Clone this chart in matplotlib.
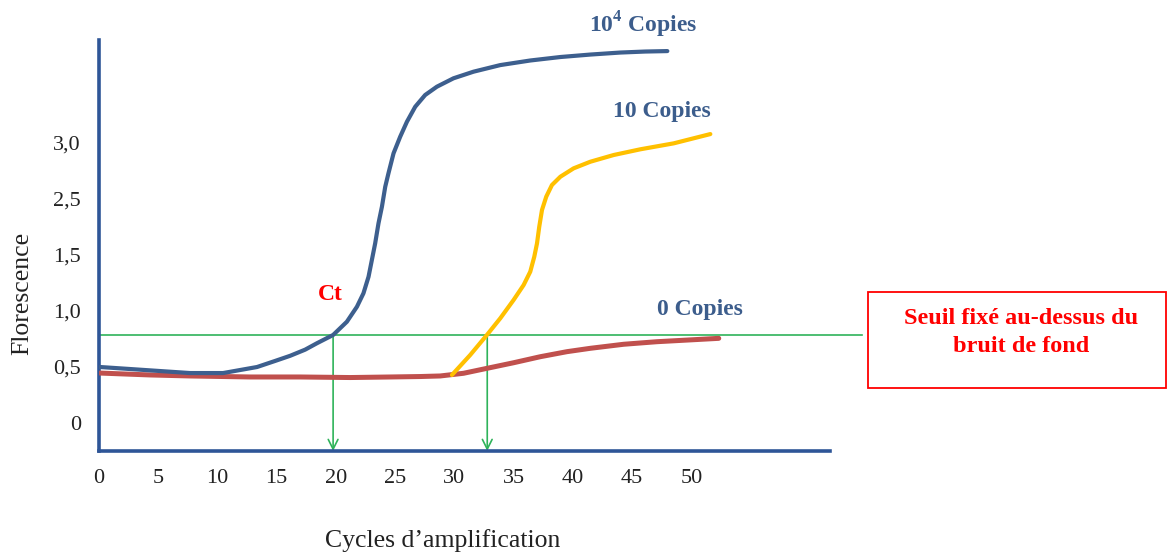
import matplotlib
matplotlib.use("Agg")
import matplotlib.pyplot as plt
from matplotlib.patches import Rectangle

plt.rcParams['font.family'] = ['Liberation Serif', 'DejaVu Serif']
plt.rcParams['mathtext.fontset'] = 'custom'
plt.rcParams['mathtext.rm'] = 'Liberation Serif'
plt.rcParams['mathtext.bf'] = 'Liberation Serif:bold'

# ---- data ----
cycles_1e4 = [0.08, 2.62, 5.15, 7.69, 10.47, 13.34, 14.86, 16.13, 17.40, 18.39,
              19.76, 20.92, 21.77, 22.32, 22.75, 23.03, 23.31, 23.59, 23.88, 24.16,
              24.43, 24.86, 25.42, 25.99, 26.69, 27.53, 28.52, 29.92, 31.61, 33.87,
              36.40, 38.94, 41.47, 44.0, 46.11, 47.97]
fluo_1e4 = [0.500, 0.482, 0.464, 0.446, 0.446, 0.500, 0.554, 0.600, 0.655, 0.712,
            0.786, 0.904, 1.038, 1.158, 1.306, 1.455, 1.604, 1.783, 1.931, 2.110,
            2.229, 2.408, 2.556, 2.690, 2.824, 2.929, 3.003, 3.078, 3.137, 3.196,
            3.237, 3.268, 3.290, 3.308, 3.317, 3.321]

cycles_10 = [29.79, 31.33, 32.74, 33.87, 34.99, 35.84, 36.40, 36.74, 36.97, 37.16,
             37.39, 37.75, 38.23, 38.94, 40.06, 41.47, 43.44, 45.69, 48.50, 51.60]
fluo_10 = [0.429, 0.607, 0.786, 0.935, 1.098, 1.232, 1.351, 1.485, 1.604, 1.753,
           1.902, 2.021, 2.125, 2.199, 2.274, 2.333, 2.393, 2.444, 2.497, 2.580]

cycles_0 = [0.08, 4.31, 7.69, 12.75, 16.98, 21.20, 24.58, 27.11, 28.8, 30.77,
            32.74, 34.99, 37.25, 39.50, 41.47, 44.28, 47.10, 52.31]
fluo_0 = [0.446, 0.429, 0.420, 0.411, 0.411, 0.406, 0.411, 0.415, 0.420, 0.444,
          0.488, 0.538, 0.592, 0.637, 0.667, 0.703, 0.726, 0.756]

threshold = 0.79
ct_cycles = [19.76, 32.77]

xtick_values = [0, 5, 10, 15, 20, 25, 30, 35, 40, 45, 50]
xtick_labels = ['0', '5', '10', '15', '20', '25', '30', '35', '40', '45', '50']
ytick_values = [0, 0.5, 1.0, 1.5, 2.0, 2.5]
ytick_labels = ['0', '0,5', '1,0', '1,5', '2,5', '3,0']

W, H = 1168, 554
fig = plt.figure(figsize=(W / 100, H / 100), dpi=100)
ax = fig.add_axes([99 / W, (H - 451) / H, 731 / W, 411 / H])

axis_col = '#2e5597'
blue = '#3d5f8e'
red = '#c0504d'
yellow = '#ffc000'
green = '#2fb35a'
txt_blue = '#3c5d8c'

ax.set_xlim(0, 61.7)
ax.set_ylim(-0.25, 3.42)
for s in ['top', 'right']:
    ax.spines[s].set_visible(False)
for s in ['left', 'bottom']:
    ax.spines[s].set_color(axis_col)
    ax.spines[s].set_linewidth(2.6)

ax.set_xticks(xtick_values)
ax.set_xticklabels(xtick_labels)
ax.set_yticks(ytick_values)
ax.set_yticklabels(ytick_labels)
ax.tick_params(axis='both', length=0, labelsize=16, colors='#222222')
ax.tick_params(axis='x', pad=13)
ax.tick_params(axis='y', pad=13)

# threshold line (extends beyond axes)
ax.plot([0, 64.4], [threshold, threshold], color=green, lw=1.2, clip_on=False, zorder=2)

# curves
ax.plot(cycles_0, fluo_0, color=red, lw=3.6, solid_capstyle='round', solid_joinstyle='round', zorder=3)
ax.plot(cycles_1e4, fluo_1e4, color=blue, lw=3.0, solid_capstyle='round', solid_joinstyle='round', zorder=4)
ax.plot(cycles_10, fluo_10, color=yellow, lw=3.0, solid_capstyle='round', solid_joinstyle='round', zorder=4)

# Ct arrows
for c in ct_cycles:
    ax.annotate('', xy=(c, -0.25), xytext=(c, threshold),
                arrowprops=dict(arrowstyle='->,head_length=0.7,head_width=0.35',
                                color=green, lw=1.2, shrinkA=0, shrinkB=0),
                zorder=2)

def fx(px):
    return px / W

def fy(py):
    return 1 - py / H

fig.text(fx(643), fy(25), r'10$^{\mathbf{4}}$ Copies', color=txt_blue, fontsize=17,
         fontweight='bold', ha='center', va='center')
fig.text(fx(662), fy(112), '10 Copies', color=txt_blue, fontsize=17,
         fontweight='bold', ha='center', va='center')
fig.text(fx(700), fy(310), '0 Copies', color=txt_blue, fontsize=17,
         fontweight='bold', ha='center', va='center')
fig.text(fx(330), fy(295), 'Ct', color='#ff0000', fontsize=17,
         fontweight='bold', ha='center', va='center')

fig.text(fx(22), fy(293), 'Florescence', fontsize=18.5, rotation=90,
         ha='center', va='center', color='#222222')
fig.text(fx(443), fy(541), 'Cycles d\u2019amplification', fontsize=18.5,
         ha='center', va='center', color='#222222')

# red box
fig.patches.append(Rectangle((fx(868), fy(388)), (1166 - 868) / W, (388 - 292) / H,
                             transform=fig.transFigure, fill=False,
                             edgecolor='#ff0000', lw=1.3))
fig.text(fx(1021), fy(318), 'Seuil fixé au-dessus du', color='#ff0000', fontsize=17.5,
         fontweight='bold', ha='center', va='center')
fig.text(fx(1021), fy(347), 'bruit de fond', color='#ff0000', fontsize=17.5,
         fontweight='bold', ha='center', va='center')

fig.savefig('out.png', dpi=100)
